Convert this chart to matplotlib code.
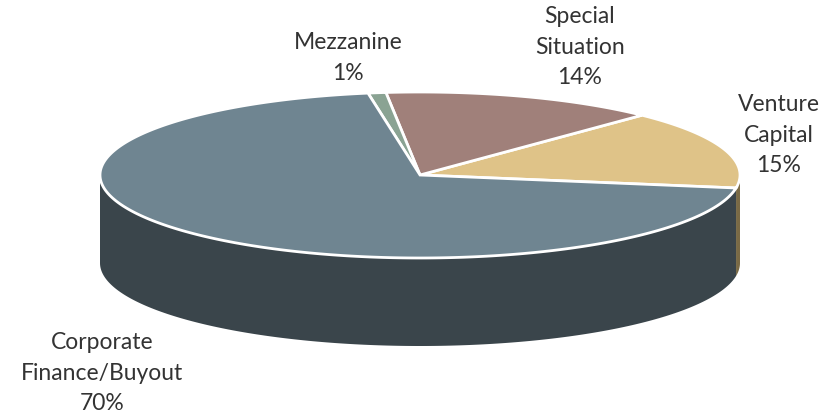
import numpy as np
import matplotlib
matplotlib.use("Agg")
import matplotlib.pyplot as plt

# Data, counter-clockwise from the right-hand edge of the pie
categories = ["Venture\nCapital", "Special\nSituation", "Mezzanine", "Corporate\nFinance/Buyout"]
shares = [15.3, 13.9, 0.9, 69.9]
percent_labels = ["15%", "14%", "1%", "70%"]
top_colors = ["#DFC388", "#A0807A", "#8AA393", "#6F8591"]
side_colors = ["#7A6A45", "#57453F", "#4A5A50", "#3A454B"]
label_xy = [(779, 135), (580, 47), (348, 58), (102, 373)]

CX, CY, RX, RY, DEPTH = 420, 175, 320, 83, 88
START_DEG = -9

fig = plt.figure(figsize=(8.4, 4.15), dpi=100)
ax = fig.add_axes([0, 0, 1, 1])
ax.set_xlim(0, 840)
ax.set_ylim(415, 0)
ax.axis("off")

cum = np.cumsum([0] + shares) / sum(shares) * 360 + START_DEG


def arc(a, b, n=200):
    t = np.radians(np.linspace(a, b, n))
    return CX + RX * np.cos(t), CY - RY * np.sin(t)


# Sides: only the front-facing part (angles 180..360) of each slice
for i in range(len(shares)):
    for off in (-360, 0, 360):
        a = max(cum[i] + off, 180)
        b = min(cum[i + 1] + off, 360)
        if b > a:
            x, y = arc(a, b)
            ax.fill(np.r_[x, x[::-1]], np.r_[y, y[::-1] + DEPTH],
                    color=side_colors[i], lw=0, zorder=1)

# Tops
for i in range(len(shares)):
    x, y = arc(cum[i], cum[i + 1], 300)
    ax.fill(np.r_[CX, x], np.r_[CY, y], facecolor=top_colors[i],
            edgecolor="white", lw=2.0, joinstyle="miter", zorder=2 + (i == 3))

# Labels
for xy, name, pct in zip(label_xy, categories, percent_labels):
    ax.text(xy[0], xy[1], name + "\n" + pct, ha="center", va="center",
            family="Lato", fontsize=16.5, color="#333333",
            linespacing=1.55, zorder=5)

fig.savefig("out.png", dpi=100)
